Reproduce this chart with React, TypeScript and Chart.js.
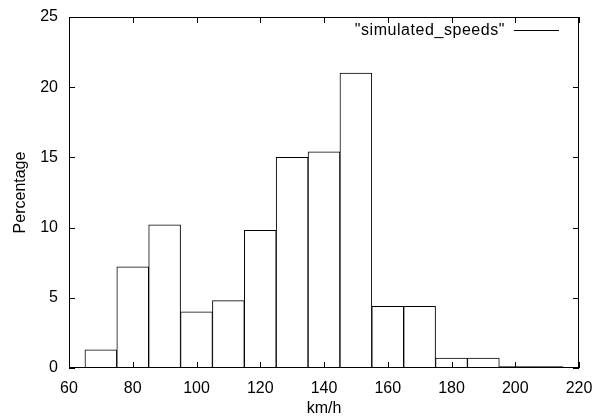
import React, { useEffect, useRef } from "react";
import { Chart, registerables } from "chart.js";

Chart.register(...registerables);

const binCenters = [70, 80, 90, 100, 110, 120, 130, 140, 150, 160, 170, 180, 190, 200, 210];
const percentages = [1.3, 7.2, 10.2, 4.0, 4.8, 9.8, 15.0, 15.4, 21.0, 4.4, 4.4, 0.7, 0.7, 0.1, 0.1];
const seriesLabel = '"simulated_speeds"';
const xTicks = [60, 80, 100, 120, 140, 160, 180, 200, 220];
const yTicks = [0, 5, 10, 15, 20, 25];

const FONT = "'Liberation Sans', Arial, Helvetica, sans-serif";
const FS = 16;

const inwardTicks = {
  id: "inwardTicks",
  afterDraw(chart: any) {
    const { ctx, chartArea, scales } = chart;
    const { left, right, top, bottom } = chartArea;
    const len = 6;
    ctx.save();
    ctx.strokeStyle = "#000";
    ctx.lineWidth = 1;
    ctx.beginPath();
    for (const v of xTicks) {
      const x = Math.round(scales.x.getPixelForValue(v)) + 0.5;
      ctx.moveTo(x, bottom);
      ctx.lineTo(x, bottom - len);
      ctx.moveTo(x, top);
      ctx.lineTo(x, top + len);
    }
    for (const v of yTicks) {
      const y = Math.round(scales.y.getPixelForValue(v)) + 0.5;
      ctx.moveTo(left, y);
      ctx.lineTo(left + len, y);
      ctx.moveTo(right, y);
      ctx.lineTo(right - len, y);
    }
    ctx.stroke();
    ctx.strokeRect(Math.round(left) + 0.5, Math.round(top) + 0.5, Math.round(right - left) - 1, Math.round(bottom - top) - 1);
    // legend
    const label = chart.data.datasets[0].label;
    const lineRight = right - 20;
    const lineLeft = lineRight - 45;
    const ly = top + 13.5;
    ctx.font = `${FS}px ${FONT}`;
    (ctx as any).letterSpacing = "0.55px";
    ctx.fillStyle = "#000";
    ctx.textAlign = "right";
    ctx.textBaseline = "middle";
    ctx.fillText(label, lineLeft - 9, ly);
    ctx.beginPath();
    ctx.moveTo(lineLeft, ly);
    ctx.lineTo(lineRight, ly);
    ctx.stroke();
    ctx.restore();
  },
};

export default function App() {
  const ref = useRef<HTMLCanvasElement>(null);
  useEffect(() => {
    document.body.style.margin = "0";
    const chart = new Chart(ref.current!, {
      type: "bar",
      data: {
        datasets: [
          {
            label: seriesLabel,
            data: binCenters.map((x, i) => ({ x, y: percentages[i] })),
            backgroundColor: "#ffffff",
            borderColor: "#000000",
            borderWidth: 1,
            barPercentage: 1,
            categoryPercentage: 1,
          },
        ],
      },
      options: {
        animation: false,
        responsive: false,
        layout: { padding: { top: 17, right: 15, left: 0, bottom: 0 } },
        plugins: { legend: { display: false }, tooltip: { enabled: false } },
        scales: {
          x: {
            type: "linear",
            min: 60,
            max: 220,
            offset: false,
            afterBuildTicks: (s: any) => {
              s.ticks = xTicks.map((v) => ({ value: v }));
            },
            afterFit: (s: any) => {
              s.height = 50;
              s.paddingLeft = 0;
              s.paddingRight = 0;
            },
            grid: { display: false, drawTicks: false },
            border: { display: false },
            ticks: { color: "#000", font: { family: FONT, size: FS }, padding: 11, maxRotation: 0, autoSkip: false },
            title: { display: true, text: "km/h", color: "#000", font: { family: FONT, size: FS }, padding: { top: 0, bottom: 0 } },
          },
          y: {
            min: 0,
            max: 25,
            afterBuildTicks: (s: any) => {
              s.ticks = yTicks.map((v) => ({ value: v }));
            },
            afterFit: (s: any) => {
              s.width = 69;
              s.paddingTop = 0;
              s.paddingBottom = 0;
            },
            grid: { display: false, drawTicks: false },
            border: { display: false },
            ticks: { color: "#000", font: { family: FONT, size: FS }, padding: 11 },
            title: { display: true, text: "Percentage", color: "#000", font: { family: FONT, size: FS }, padding: { top: 11, bottom: 0 } },
          },
        },
      },
      plugins: [inwardTicks],
    });
    return () => chart.destroy();
  }, []);
  return (
    <div style={{ width: 594, height: 418 }}>
      <canvas ref={ref} width={594} height={418} style={{ display: "block" }} />
    </div>
  );
}
